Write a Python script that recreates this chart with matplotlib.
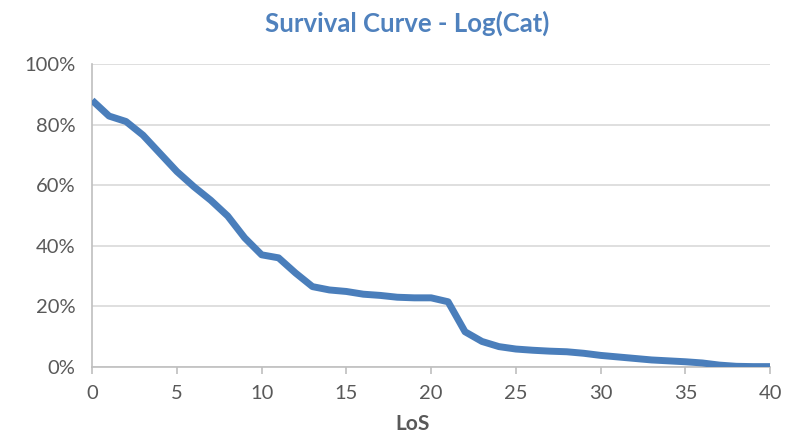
import numpy as np
import matplotlib.pyplot as plt
from matplotlib.ticker import PercentFormatter

# Survival curve values (LoS in days, survival in %)
los = [0, 1, 2, 3, 4, 5, 6, 7, 8, 9, 10, 11, 12, 13, 14, 15, 16, 17, 18, 19, 20,
       21, 22, 23, 24, 25, 26, 27, 28, 29, 30, 31, 32, 33, 34, 35, 36, 37, 38, 39, 40]
survival = [88, 82.8, 81, 76.5, 70.5, 64.5, 59.5, 55, 49.8, 42.6, 37, 36, 31, 26.5, 25.4,
            24.9, 24, 23.6, 23, 22.8, 22.8, 21.5, 11.6, 8.4, 6.7, 5.9, 5.5, 5.2, 5, 4.5,
            3.8, 3.3, 2.8, 2.3, 2, 1.7, 1.3, 0.6, 0.2, 0.1, 0.1]
x_ticks = [0, 5, 10, 15, 20, 25, 30, 35, 40]
y_ticks = [0, 20, 40, 60, 80, 100]

plt.rcParams['font.family'] = ['Lato', 'DejaVu Sans']

fig = plt.figure(figsize=(7.94, 4.41), dpi=100)
ax = fig.add_axes([0.116, 0.168, 0.854, 0.687])

ax.plot(los, survival, color='#4A7EBB', lw=5, solid_joinstyle='round',
        solid_capstyle='butt', zorder=3)

ax.set_xlim(0, 40)
ax.set_ylim(0, 100)
ax.set_xticks(x_ticks)
ax.set_yticks(y_ticks)
ax.yaxis.set_major_formatter(PercentFormatter(decimals=0))

ax.grid(axis='y', color='#D9D9D9', lw=1.2)
ax.set_axisbelow(True)
for side in ['top', 'right']:
    ax.spines[side].set_visible(False)
for side in ['left', 'bottom']:
    ax.spines[side].set_color('#BFBFBF')
    ax.spines[side].set_linewidth(1.2)

ax.tick_params(axis='x', colors='#595959', labelsize=14.5, length=5, width=1.2,
               color='#BFBFBF', pad=8)
ax.tick_params(axis='y', colors='#595959', labelsize=14.5, length=0, pad=12)

ax.set_xlabel('LoS', fontsize=15, fontweight='bold', color='#595959', labelpad=9)
ax.xaxis.set_label_coords(0.472, -0.155)
fig.suptitle('Survival Curve - Log(Cat)', fontsize=18.5, fontweight='bold',
             color='#4F81BD', x=0.513, y=0.975)

fig.savefig('out.png', dpi=100, facecolor='white')
